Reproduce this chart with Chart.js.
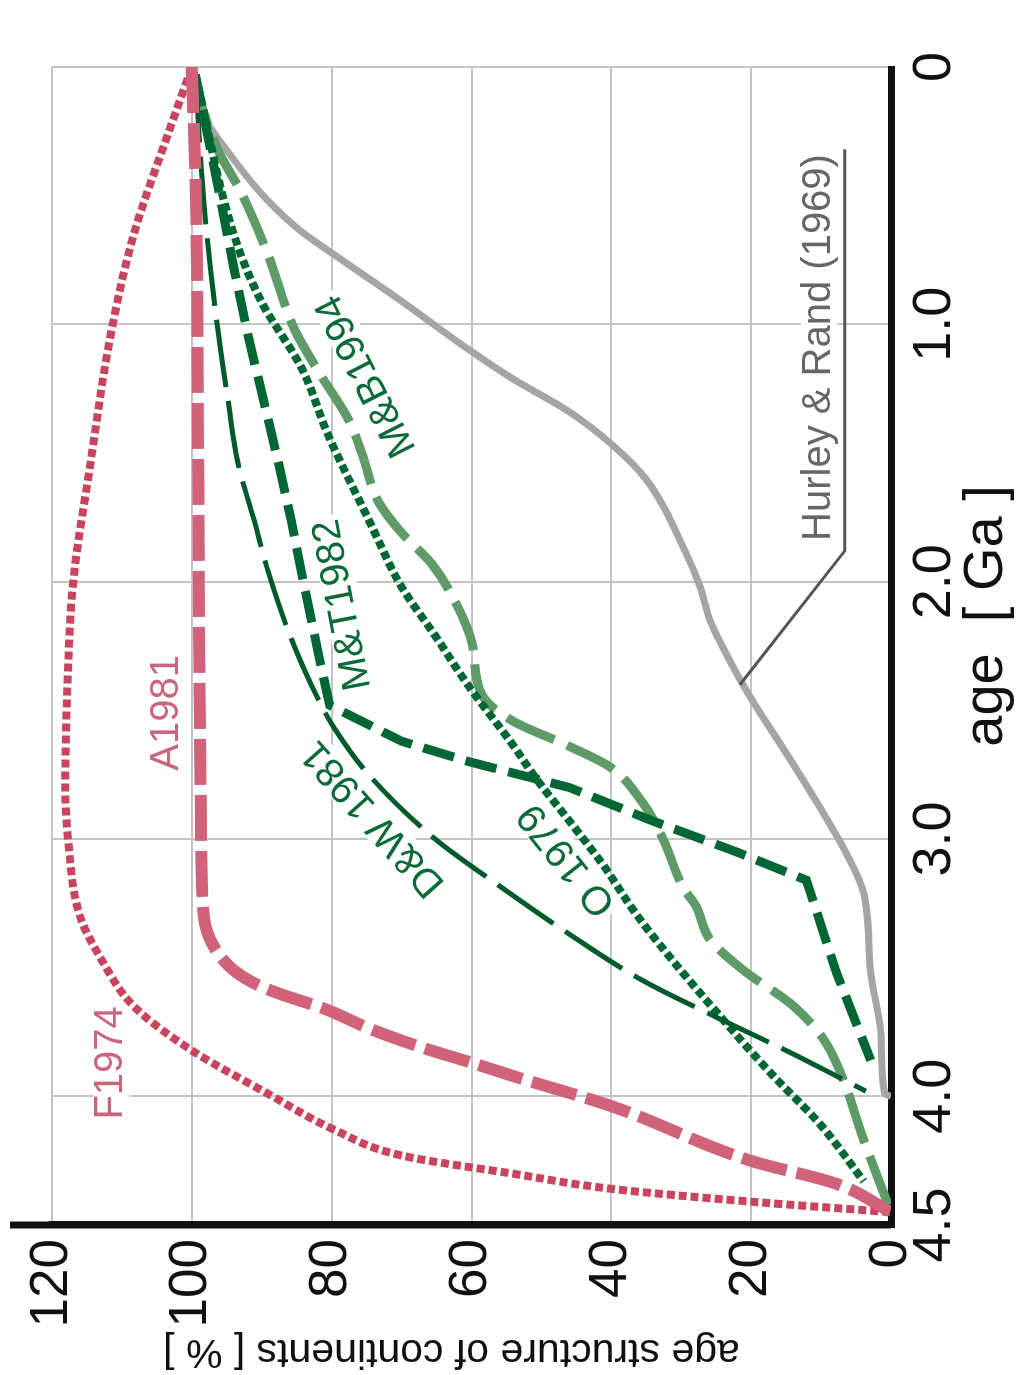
<!DOCTYPE html>
<html>
<head>
<meta charset="utf-8">
<title>age structure of continents</title>
<script src="https://cdn.jsdelivr.net/npm/chart.js@4.4.0/dist/chart.umd.min.js"></script>
<style>
  html, body { margin: 0; padding: 0; background: #fff; overflow: hidden; }
  /* chart is laid out landscape, then turned a quarter left like the printed figure */
  #wrap {
    position: absolute; left: 0; top: 0;
    width: 1375px; height: 1020px;
    transform-origin: 0 0;
    transform: translate(0, 1375px) rotate(-90deg);
  }
</style>
</head>
<body>
<div id="wrap"><canvas id="myChart" width="1375" height="1020"></canvas></div>
<script>
// axis ticks
const ageTicks = [0, 1, 2, 3, 4, 4.5];
const ageTickLabels = ['0', '1.0', '2.0', '3.0', '4.0', '4.5'];
const pctTicks = [0, 20, 40, 60, 80, 100, 120];

// F1974 (dotted, red)
const fAge = [0, 0.26, 0.65, 1.04, 1.54, 2.01, 2.41, 2.80, 3.00, 3.30, 3.46, 3.65, 3.82, 3.99, 4.13, 4.23, 4.30, 4.36, 4.41, 4.45];
const fPct = [100, 103.4, 108.3, 111.6, 114.5, 117.0, 117.8, 118.1, 117.7, 116.0, 113.1, 108.3, 100.1, 89.1, 79.6, 70.0, 54.2, 39.8, 19.7, 0];

// A1981 (thick dashed, pink)
const aAge = [0, 0.52, 1.54, 2.41, 2.93, 3.30, 3.43, 3.51, 3.56, 3.60, 3.66, 3.74, 3.81, 3.87, 3.92, 4.04, 4.25, 4.34, 4.45];
const aPct = [100, 99.4, 99.1, 98.9, 98.7, 98.3, 96.6, 94.0, 91.1, 87.6, 81.0, 74.3, 67.1, 59.9, 54.2, 39.8, 20.1, 7.8, 0];

// D&W 1981 (long dash, dark green)
const dwAge = [0.03, 0.52, 0.91, 1.30, 1.54, 1.76, 1.96, 2.22, 2.48, 2.57, 2.75, 3.00, 3.19, 3.37, 3.55, 3.70, 3.83, 3.98];
const dwPct = [99.5, 98.3, 96.8, 94.8, 93.4, 91.1, 89.1, 85.8, 81.5, 79.6, 74.7, 65.2, 55.6, 46.0, 35.5, 24.4, 14.4, 3.6];

// M&T1982 (dashed, dark green)
const mtAge = [0.03, 0.39, 0.78, 1.04, 1.30, 1.54, 1.76, 2.02, 2.28, 2.48, 2.62, 2.70, 2.80, 2.93, 3.05, 3.16, 3.52, 3.86];
const mtPct = [99.5, 96.8, 94.0, 92.0, 89.7, 87.6, 85.8, 83.9, 81.9, 80.3, 70.0, 60.3, 46.0, 34.1, 22.1, 12.1, 7.8, 2.9];

// O 1979 (dotted, dark green)
const oAge = [0.03, 0.65, 0.91, 1.17, 1.43, 1.76, 2.02, 2.21, 2.41, 2.63, 2.76, 2.93, 3.10, 3.29, 3.46, 3.69, 3.91, 4.11, 4.33];
const oPct = [99.5, 94.0, 90.1, 84.3, 80.5, 74.7, 70.0, 65.2, 60.3, 54.2, 50.9, 46.0, 41.2, 36.5, 31.6, 24.4, 17.2, 10.1, 3.9];

// M&B1994 (dashed, light green)
const mbAge = [0.03, 0.10, 0.32, 0.49, 0.73, 1.02, 1.20, 1.37, 1.50, 1.69, 1.81, 1.93, 2.09, 2.24, 2.44, 2.54, 2.64, 2.72, 2.86, 3.00, 3.19, 3.26, 3.39, 3.51, 3.65, 3.78, 3.91, 4.17, 4.45];
const mbPct = [99.5, 99.1, 96.3, 92.9, 89.1, 85.3, 81.5, 77.6, 75.7, 73.3, 70.0, 65.7, 62.1, 59.9, 58.5, 54.2, 46.0, 40.2, 35.5, 32.6, 29.7, 27.9, 25.9, 21.1, 13.9, 9.6, 7.2, 3.9, 0];

// Hurley & Rand (1969) (solid, grey)
const hrAge = [0.03, 0.17, 0.36, 0.52, 0.64, 0.73, 0.91, 1.10, 1.21, 1.34, 1.47, 1.60, 1.89, 2.02, 2.15, 2.31, 2.45, 2.67, 2.88, 3.06, 3.21, 3.52, 3.78, 3.99, 4.0];
const hrPct = [99.5, 98.7, 94.0, 89.1, 84.3, 79.6, 70.0, 60.3, 54.2, 46.0, 39.8, 35.1, 29.3, 27.3, 25.9, 23.0, 20.1, 14.9, 10.1, 6.3, 3.9, 2.9, 1.4, 0.9, 0];

// underline + leader line of the Hurley & Rand label
const leaderAge = [0.32, 1.88, 2.40];
const leaderPct = [6.6, 6.6, 21.6];

// curve labels: text, centre (age, %), angle in the chart frame
const curveLabels = [
  {text: 'F1974', age: 3.87, pct: 111.5, angle: 0, color: '#c9667c'},
  {text: 'A1981', age: 2.51, pct: 103.6, angle: 0, color: '#c9667c'},
  {text: 'M&B1994', age: 1.20, pct: 75.0, angle: -27, color: '#0b6a37'},
  {text: 'M&T1982', age: 2.09, pct: 78.4, angle: -11, color: '#0b6a37'},
  {text: 'D&W 1981', age: 2.92, pct: 74.0, angle: -41.5, color: '#0b6a37'},
  {text: 'O 1979', age: 3.08, pct: 46.3, angle: -38.4, color: '#0b6a37'},
  {text: 'Hurley & Rand (1969)', age: 1.09, pct: 10.3, angle: 0, color: '#666666'}
];

function pts(ages, pcts) {
  return ages.map((a, i) => ({x: a, y: pcts[i]}));
}

const FONT = '"Liberation Sans", Arial, sans-serif';

const labelPlugin = {
  id: 'curveLabels',
  beforeDatasetsDraw(chart) {
    const ctx = chart.ctx, xs = chart.scales.x, ys = chart.scales.y;
    curveLabels.forEach(l => {
      const px = xs.getPixelForValue(l.age), py = ys.getPixelForValue(l.pct);
      ctx.save();
      ctx.translate(px, py);
      ctx.rotate(l.angle * Math.PI / 180);
      ctx.font = '40px ' + FONT;
      const w = ctx.measureText(l.text).width;
      ctx.fillStyle = '#fff';
      ctx.fillRect(-w / 2 - 4, -18, w + 8, 36);
      ctx.fillStyle = l.color;
      ctx.textAlign = 'center';
      ctx.textBaseline = 'middle';
      ctx.fillText(l.text, 0, 0);
      ctx.restore();
    });
  },
  afterDraw(chart) {
    const ctx = chart.ctx, area = chart.chartArea;
    ctx.save();
    // black % axis runs on past 120
    ctx.strokeStyle = '#111';
    ctx.lineWidth = 7;
    ctx.beginPath();
    ctx.moveTo(area.left, area.bottom);
    ctx.lineTo(area.left, area.top - 42);
    ctx.stroke();
    // axis titles
    ctx.fillStyle = '#111';
    ctx.font = '56px ' + FONT;
    ctx.textAlign = 'center';
    ctx.textBaseline = 'alphabetic';
    ctx.fillText('age  [ Ga ]', (area.left + area.right) / 2 + 30, 1002);
    ctx.translate(35, (area.top + area.bottom) / 2 - 20);
    ctx.rotate(-Math.PI / 2);
    ctx.font = '41px ' + FONT;
    ctx.fillText('age structure of continents [ % ]', 0, 0);
    ctx.restore();
  }
};

const base = {pointRadius: 0, showLine: true, fill: false, borderCapStyle: 'butt', cubicInterpolationMode: 'monotone'};

new Chart(document.getElementById('myChart').getContext('2d'), {
  type: 'scatter',
  data: {
    datasets: [
      Object.assign({}, base, {label: 'A1981', data: pts(aAge, aPct), borderColor: '#d0637a', borderWidth: 12, borderDash: [46, 10]}),
      Object.assign({}, base, {label: 'F1974', data: pts(fAge, fPct), borderColor: '#c8445f', borderWidth: 8, borderDash: [8, 4]}),
      Object.assign({}, base, {label: 'D&W 1981', data: pts(dwAge, dwPct), borderColor: '#005a2c', borderWidth: 5, borderDash: [68, 14]}),
      Object.assign({}, base, {label: 'M&T1982', data: pts(mtAge, mtPct), borderColor: '#006633', borderWidth: 9, borderDash: [32, 12], tension: 0, cubicInterpolationMode: 'default'}),
      Object.assign({}, base, {label: 'O 1979', data: pts(oAge, oPct), borderColor: '#006633', borderWidth: 8, borderDash: [8, 4]}),
      Object.assign({}, base, {label: 'M&B1994', data: pts(mbAge, mbPct), borderColor: '#5f9a69', borderWidth: 9, borderDash: [52, 14]}),
      Object.assign({}, base, {label: 'leader', data: pts(leaderAge, leaderPct), borderColor: '#555', borderWidth: 3, tension: 0, cubicInterpolationMode: 'default'}),
      Object.assign({}, base, {label: 'Hurley & Rand (1969)', data: pts(hrAge, hrPct), borderColor: '#a5a5a5', borderWidth: 7})
    ]
  },
  options: {
    responsive: false,
    animation: false,
    devicePixelRatio: 1,
    layout: {padding: {left: 0, right: 67, top: 52, bottom: 0}},
    plugins: {legend: {display: false}, tooltip: {enabled: false}},
    scales: {
      x: {
        type: 'linear',
        position: 'bottom',
        reverse: true,
        min: 0,
        max: 4.5,
        afterBuildTicks: scale => { scale.ticks = ageTicks.map(v => ({value: v})); },
        afterFit: scale => { scale.height = 129; },
        grid: {color: '#c4c4c4', lineWidth: 2, drawTicks: false},
        border: {display: true, color: '#111', width: 7},
        ticks: {
          autoSkip: false, maxRotation: 0, padding: 12, color: '#111',
          font: {family: FONT, size: 54},
          callback: (v, i) => ageTickLabels[i]
        }
      },
      y: {
        type: 'linear',
        position: 'left',
        min: 0,
        max: 120,
        afterBuildTicks: scale => { scale.ticks = pctTicks.map(v => ({value: v})); },
        afterFit: scale => { scale.width = 150; },
        grid: {color: '#c4c4c4', lineWidth: 2, drawTicks: false},
        border: {display: true, color: '#111', width: 7},
        ticks: {padding: 14, color: '#111', font: {family: FONT, size: 53}}
      }
    }
  },
  plugins: [labelPlugin]
});
</script>
</body>
</html>
